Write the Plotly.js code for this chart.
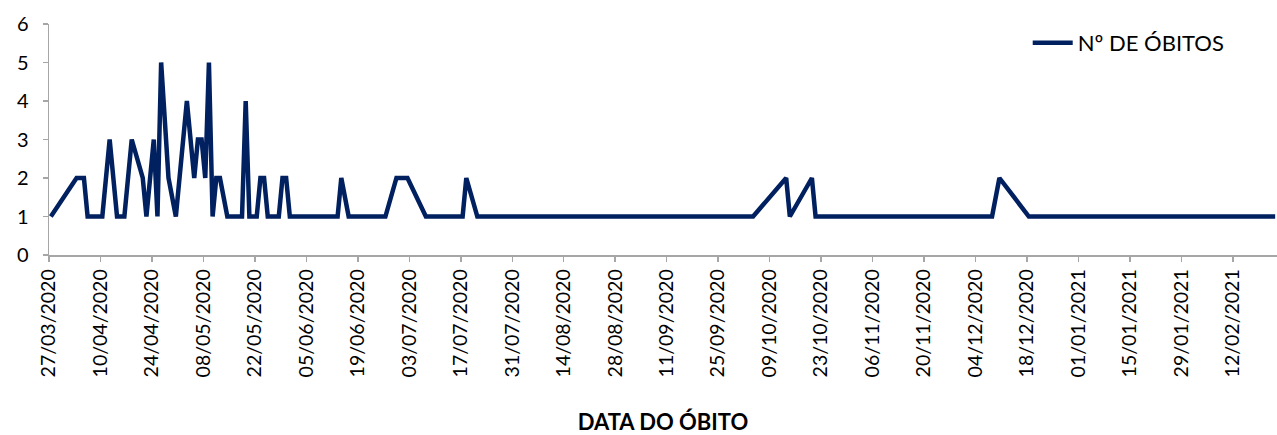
<!DOCTYPE html>
<html>
<head>
<meta charset="utf-8">
<script src="https://cdn.plot.ly/plotly-3.0.1.min.js"></script>
<style>
  html, body { margin: 0; padding: 0; background: #ffffff; }
  #chart { width: 1277px; height: 435px; }
</style>
</head>
<body>
<div id="chart"></div>
<script>
// Data (date of death, number of deaths)
const datas = [
  '2020-03-27', '2020-04-03', '2020-04-05', '2020-04-06', '2020-04-10',
  '2020-04-12', '2020-04-14', '2020-04-16', '2020-04-18', '2020-04-21',
  '2020-04-22', '2020-04-24', '2020-04-25', '2020-04-26', '2020-04-28',
  '2020-04-30', '2020-05-03', '2020-05-05', '2020-05-06', '2020-05-07',
  '2020-05-08', '2020-05-09', '2020-05-10', '2020-05-11', '2020-05-12',
  '2020-05-14', '2020-05-18', '2020-05-19', '2020-05-20', '2020-05-22',
  '2020-05-23', '2020-05-24', '2020-05-25', '2020-05-28', '2020-05-29',
  '2020-05-30', '2020-05-31', '2020-06-13', '2020-06-14', '2020-06-16',
  '2020-06-26', '2020-06-29', '2020-07-02', '2020-07-07', '2020-07-17',
  '2020-07-18', '2020-07-21', '2020-10-04', '2020-10-13', '2020-10-14',
  '2020-10-20', '2020-10-21', '2020-12-08', '2020-12-10', '2020-12-18',
  '2021-02-23'
];
const obitos = [
  1, 2, 2, 1, 1,
  3, 1, 1, 3, 2,
  1, 3, 1, 5, 2,
  1, 4, 2, 3, 3,
  2, 5, 1, 2, 2,
  1, 1, 4, 1, 1,
  2, 2, 1, 1, 2,
  2, 1, 1, 2, 1,
  1, 2, 2, 1, 1,
  2, 1, 1, 2, 1,
  2, 1, 1, 2, 1,
  1
];
const tickLabels = [
  '27/03/2020', '10/04/2020', '24/04/2020', '08/05/2020', '22/05/2020',
  '05/06/2020', '19/06/2020', '03/07/2020', '17/07/2020', '31/07/2020',
  '14/08/2020', '28/08/2020', '11/09/2020', '25/09/2020', '09/10/2020',
  '23/10/2020', '06/11/2020', '20/11/2020', '04/12/2020', '18/12/2020',
  '01/01/2021', '15/01/2021', '29/01/2021', '12/02/2021'
];
const seriesName = 'Nº DE ÓBITOS';
const xTitle = 'DATA DO ÓBITO';
const yTicks = [0, 1, 2, 3, 4, 5, 6];

// helpers: day-bin boundaries (Excel date axis, points centred in their day)
const DAY = 86400000;
function isoToMs(s) { return Date.parse(s + 'T00:00:00Z'); }
function msToStr(ms) { return new Date(ms).toISOString().replace('T', ' ').replace('Z', ''); }
function labelToMs(l) { const p = l.split('/'); return Date.UTC(+p[2], +p[1] - 1, +p[0]); }

const tickvals = tickLabels.map(l => msToStr(labelToMs(l) - DAY / 2));
const xStart = msToStr(isoToMs(datas[0]) - DAY / 2);
const xEnd = msToStr(isoToMs(datas[datas.length - 1]) + DAY / 2);

const FONT = 'Lato, "Open Sans", sans-serif';
const AXIS = '#a6a6a6';

const trace = {
  type: 'scatter',
  mode: 'lines',
  name: seriesName,
  x: datas,
  y: obitos,
  line: { color: '#002060', width: 4.5, shape: 'linear' },
  cliponaxis: true,
  hoverinfo: 'x+y'
};

const layout = {
  width: 1277,
  height: 435,
  margin: { l: 49, r: 0, t: 24, b: 180, pad: 0 },
  paper_bgcolor: '#ffffff',
  plot_bgcolor: '#ffffff',
  font: { family: FONT, size: 20, color: '#000000' },
  showlegend: true,
  legend: {
    x: 0.797, y: 0.918, xanchor: 'left', yanchor: 'middle',
    bgcolor: 'rgba(0,0,0,0)', borderwidth: 0,
    font: { family: FONT, size: 22, color: '#000000' },
    itemwidth: 40
  },
  xaxis: {
    type: 'date',
    range: [xStart, xEnd],
    tickmode: 'array',
    tickvals: tickvals,
    ticktext: tickLabels,
    tickangle: -90,
    ticks: 'outside',
    ticklen: 5,
    tickwidth: 1.5,
    tickcolor: AXIS,
    showline: true,
    linecolor: AXIS,
    linewidth: 1.5,
    showgrid: false,
    zeroline: false,
    tickfont: { family: FONT, size: 19.5, color: '#000000' },
    title: {
      text: xTitle,
      font: { family: FONT, size: 22, color: '#000000', weight: 'bold' },
      standoff: 42
    }
  },
  yaxis: {
    range: [0, 6],
    tickmode: 'array',
    tickvals: yTicks,
    ticktext: yTicks.map(String),
    ticks: 'outside',
    ticklen: 5,
    tickwidth: 1.5,
    tickcolor: AXIS,
    showline: true,
    linecolor: AXIS,
    linewidth: 1.5,
    showgrid: false,
    zeroline: false,
    tickfont: { family: FONT, size: 20, color: '#000000' },
    ticklabelstandoff: 10
  }
};

Plotly.newPlot('chart', [trace], layout, { displayModeBar: false, staticPlot: true });
</script>
</body>
</html>
